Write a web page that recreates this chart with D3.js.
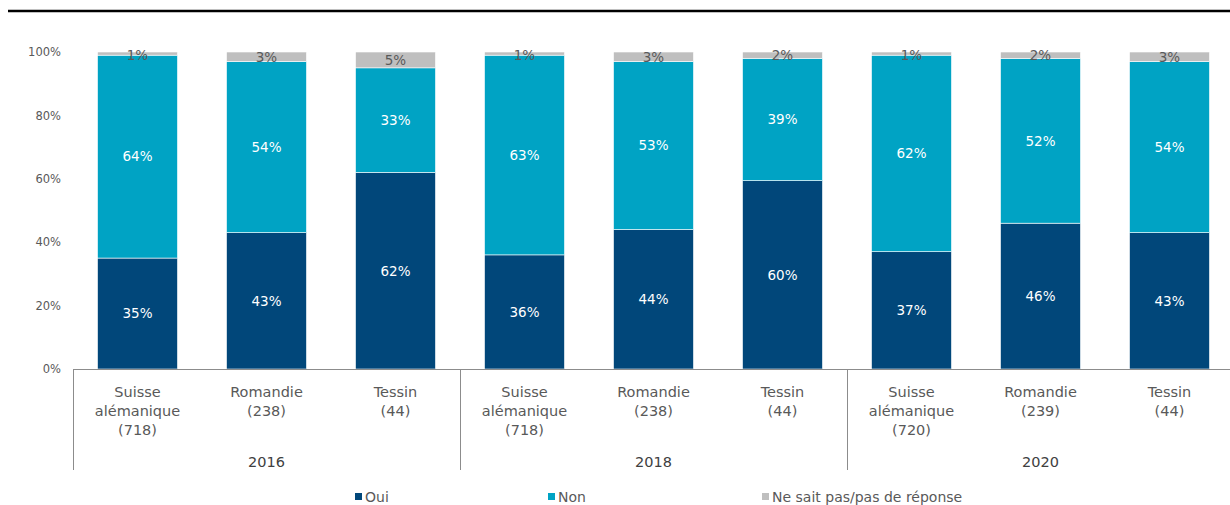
<!DOCTYPE html>
<html>
<head>
<meta charset="utf-8">
<script src="https://cdn.jsdelivr.net/npm/d3@7"></script>
<style>
  body { margin: 0; background: #fff; }
  text { font-family: "DejaVu Sans", Verdana, sans-serif; }
</style>
</head>
<body>
<div id="chartDiv"></div>
<script>
// data
var years = ["2016", "2018", "2020"];
var regions = [["Suisse", "alémanique"], ["Romandie"], ["Tessin"]];
var counts = [["718", "238", "44"], ["718", "238", "44"], ["720", "239", "44"]];
var oui = [35, 43, 62, 36, 44, 60, 37, 46, 43];
var non = [64, 54, 33, 63, 53, 39, 62, 52, 54];
var nsp = [1, 3, 5, 1, 3, 2, 1, 2, 3];
var seriesNames = ["Oui", "Non", "Ne sait pas/pas de réponse"];
var yTicks = [0, 0.2, 0.4, 0.6, 0.8, 1];

var colors = ["#01477A", "#00A3C4", "#BFBFBF"];

var svg = d3.select("#chartDiv").append("svg")
    .attr("width", 1230)
    .attr("height", 505);

// top rule
svg.append("line")
    .attr("x1", 8).attr("x2", 1230)
    .attr("y1", 11).attr("y2", 11)
    .attr("stroke", "#000").attr("stroke-width", 2.5);

var rows = [];
years.forEach(function(yr, g) {
  regions.forEach(function(r, i) {
    var k = g * 3 + i;
    rows.push({key: "b" + k, year: yr, lines: r.concat(["(" + counts[g][i] + ")"]),
               Oui: oui[k], Non: non[k], NSP: nsp[k]});
  });
});

var x_scale = d3.scaleBand()
    .domain(rows.map(function(d) { return d.key; }))
    .range([73, 1234])
    .paddingInner(0.38)
    .paddingOuter(0.19);

var y_scale = d3.scaleLinear()
    .domain([0, 1])
    .range([369, 52]);

var stack = d3.stack()
    .keys(["Oui", "Non", "NSP"])
    .offset(d3.stackOffsetExpand);
var stacked = stack(rows);

// y axis labels only
var yAxis = d3.axisLeft(y_scale)
    .tickValues(yTicks)
    .tickFormat(d3.format(".0%"))
    .tickSize(0)
    .tickPadding(0);
var yGroup = svg.append("g").attr("transform", "translate(61,0)").call(yAxis);
yGroup.select(".domain").remove();
yGroup.selectAll("text")
    .attr("fill", "#595959")
    .style("font-size", "11.5px")
    .style("font-family", "'DejaVu Sans', sans-serif");

// bars
var layers = svg.append("g").selectAll("g").data(stacked).enter()
  .append("g").attr("fill", function(d, i) { return colors[i]; });

layers.selectAll("rect").data(function(d) { return d; }).enter()
  .append("rect")
    .attr("x", function(d) { return x_scale(d.data.key); })
    .attr("width", x_scale.bandwidth())
    .attr("y", function(d) { return y_scale(d[1]); })
    .attr("height", function(d) { return y_scale(d[0]) - y_scale(d[1]); })
    .attr("stroke", "#fff").attr("stroke-width", 0.6);

// value labels
layers.selectAll("text").data(function(d, i) {
    return d.map(function(p) { return {p: p, s: i, key: d.key}; });
  }).enter()
  .append("text")
    .attr("x", function(d) { return x_scale(d.p.data.key) + x_scale.bandwidth() / 2; })
    .attr("y", function(d) {
      var c = (y_scale(d.p[0]) + y_scale(d.p[1])) / 2;
      if (d.s == 2) c = Math.max(c, 55);
      return c;
    })
    .attr("dy", "0.36em")
    .attr("text-anchor", "middle")
    .attr("fill", function(d) { return d.s == 2 ? "#595959" : "#fff"; })
    .style("font-size", "13.5px")
    .text(function(d) { return d.p.data[d.key] + "%"; });

// x axis line and group separators
svg.append("line")
    .attr("x1", 73).attr("x2", 1234)
    .attr("y1", 369.5).attr("y2", 369.5)
    .attr("stroke", "#8c8c8c");

var groupEdges = [0, 3, 6, 9].map(function(i) {
  return i < 9 ? x_scale(rows[i].key) - x_scale.step() * 0.19 : 1234;
});
svg.append("g").selectAll("line").data(groupEdges).enter()
  .append("line")
    .attr("x1", function(d) { return Math.round(d) + 0.5; })
    .attr("x2", function(d) { return Math.round(d) + 0.5; })
    .attr("y1", 369).attr("y2", 470)
    .attr("stroke", "#8c8c8c");

// category labels
var catLabels = svg.append("g").selectAll("text").data(rows).enter()
  .append("text")
    .attr("text-anchor", "middle")
    .attr("fill", "#595959")
    .style("font-size", "14.5px")
    .attr("x", function(d) { return x_scale(d.key) + x_scale.bandwidth() / 2; })
    .attr("y", 397);
catLabels.selectAll("tspan").data(function(d) {
    return d.lines.map(function(t) { return {t: t, x: x_scale(d.key) + x_scale.bandwidth() / 2}; });
  }).enter()
  .append("tspan")
    .attr("x", function(d) { return d.x; })
    .attr("dy", function(d, i) { return i == 0 ? 0 : 19; })
    .text(function(d) { return d.t; });

// year labels
svg.append("g").selectAll("text").data(years).enter()
  .append("text")
    .attr("text-anchor", "middle")
    .attr("fill", "#404040")
    .style("font-size", "14.5px")
    .attr("x", function(d, i) { return (groupEdges[i] + groupEdges[i + 1]) / 2; })
    .attr("y", 467)
    .text(function(d) { return d; });

// legend
var legendX = [355, 548, 762];
var legend = svg.append("g").selectAll("g").data(seriesNames).enter()
  .append("g")
    .attr("transform", function(d, i) { return "translate(" + legendX[i] + ",497)"; });
legend.append("rect")
    .attr("x", 0).attr("y", -4)
    .attr("width", 7).attr("height", 7)
    .attr("fill", function(d, i) { return colors[i]; });
legend.append("text")
    .attr("x", 10).attr("y", 0)
    .attr("dy", "0.36em")
    .attr("fill", "#595959")
    .style("font-size", "14px")
    .text(function(d) { return d; });
</script>
</body>
</html>
